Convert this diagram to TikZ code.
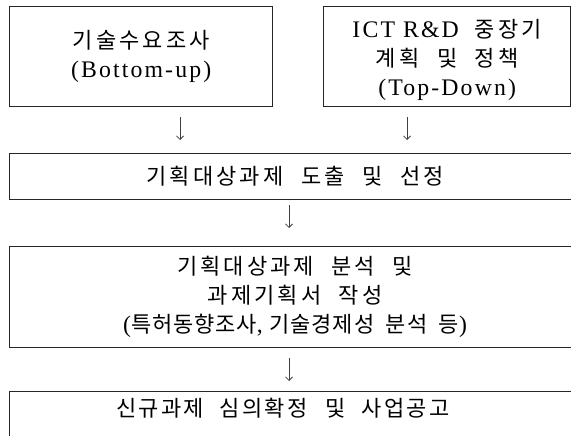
\documentclass[tikz,border=0pt]{standalone}
\usepackage{fontspec}
\setmainfont{Liberation Serif}[LetterSpace=9, Scale=1.08]
\newfontfamily\kr{Noto Sans CJK KR}[LetterSpace=14, WordSpace=2.2]
\newfontfamily\krt{Noto Sans CJK KR}[LetterSpace=4, WordSpace=2]
\newfontfamily\krm{Noto Sans CJK KR}[LetterSpace=10, WordSpace=2.2]
\newfontfamily\lat{Liberation Serif}[LetterSpace=3, Scale=1.08]
\usetikzlibrary{arrows.meta}
\begin{document}
\begin{tikzpicture}[x=1pt,y=-1pt,
  box/.style={draw=black!85, line width=1.3pt, anchor=north west, inner sep=0pt,
    align=center, font=\fontsize{22}{29}\selectfont},
  txt/.style={align=center, inner sep=0pt, font=\fontsize{22}{29}\selectfont},
  arr/.style={draw=black!75, line width=0.8pt, -{Straight Barb[length=3.5pt,width=7pt]}}]
\useasboundingbox (0,0) rectangle (571,436);
\clip (0,0) rectangle (571,436);
\fill[white] (0,0) rectangle (571,436);
% boxes
\node[box, minimum width=263pt, minimum height=100pt] (b1) at (9,6)
  {{\kr 기술수요조사}\\(Bottom-up)};
\node[box, minimum width=247pt, minimum height=100pt] (b2) at (323,6) {};
\node[txt] (t2) at ([yshift=-3pt]b2.center)
  {ICT R\&D\hspace{8pt} {\kr 중장기}\\{\kr 계획 및 정책}\\(Top-Down)};
\node[box, minimum width=571pt, minimum height=46pt] (b3) at (9,153)
  {\kr 기획대상과제 도출 및 선정};
\node[box, minimum width=571pt, minimum height=101pt] (b4) at (9,246)
  {{\kr 기획대상과제 분석 및}\\{\kr 과제기획서 작성}\\{\lat(}{\krt 특허동향조사}{\lat, }{\krt 기술경제성 분석 등}{\lat)}};
\node[box, minimum width=571pt, minimum height=80pt] (b5) at (9,391) {};
\node[txt] (t5) at (283,408) {\krm 신규과제 심의확정\hspace{3pt} 및 사업공고};
% arrows
\coordinate (a1s) at (180,117); \coordinate (a1e) at (180,140);
\coordinate (a2s) at (407,117); \coordinate (a2e) at (407,140);
\coordinate (a3s) at (289,205); \coordinate (a3e) at (289,228);
\coordinate (a4s) at (289,358); \coordinate (a4e) at (289,381);
\draw[arr] (a1s) -- (a1e);
\draw[arr] (a2s) -- (a2e);
\draw[arr] (a3s) -- (a3e);
\draw[arr] (a4s) -- (a4e);
\end{tikzpicture}
\end{document}
